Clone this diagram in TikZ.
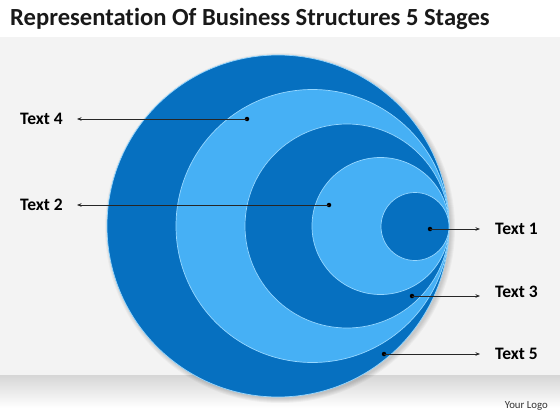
\documentclass[tikz,border=0pt]{standalone}
\usepackage{fontspec}
\setmainfont{Carlito}[RawFeature=-liga]
\usetikzlibrary{arrows.meta}
\definecolor{darkblue}{RGB}{6,112,192}
\definecolor{lightblue}{RGB}{70,176,245}
\definecolor{rimblue}{RGB}{150,215,255}
\definecolor{bggray}{RGB}{243,243,243}
\definecolor{bandgray}{RGB}{214,214,214}
\definecolor{titlegray}{RGB}{25,25,25}
\begin{document}
\begin{tikzpicture}[x=1pt,y=-1pt,
  ring/.style={draw=rimblue, line width=0.7pt},
  lbl/.style={font=\fontsize{17.5}{20}\selectfont\bfseries, text=black, inner sep=0pt},
  dotnode/.style={circle, fill=black, minimum size=4.5pt, inner sep=0pt},
  conn/.style={draw=black!85, line width=0.6pt, -{Stealth[length=4.5pt,width=3.5pt]}}]
\useasboundingbox (0,0) rectangle (560,420);
\fill[white] (0,0) rectangle (560,420);
\fill[bggray] (0,37) rectangle (560,375);
\shade[top color=bandgray, bottom color=white] (0,375) rectangle (560,408);
% title
\node[anchor=base west, font=\fontsize{24.6}{28}\selectfont\bfseries, text=titlegray, inner sep=0pt] (title) at (10,26) {Representation Of Business Structures 5 Stages};
% shadow
\foreach \k in {0,1,2,3,4}{
  \fill[black, opacity=0.035] (280,228) circle[radius={171pt+\k pt}];
}
% circles
\fill[darkblue] (278,226) circle[radius=171pt];
\draw[ring] (278,226) circle[radius=171pt];
\fill[lightblue] (312.5,226) circle[radius=136.5pt];
\draw[ring] (312.5,226) circle[radius=136.5pt];
\fill[darkblue] (347,226) circle[radius=102pt];
\draw[ring] (347,226) circle[radius=102pt];
\fill[lightblue] (380.5,226) circle[radius=68.5pt];
\draw[ring] (380.5,226) circle[radius=68.5pt];
\fill[darkblue] (415,226.5) circle[radius=34pt];
\draw[ring] (415,226.5) circle[radius=34pt];
% dots
\node[dotnode] (d4) at (247,119) {};
\node[dotnode] (d2) at (329,205) {};
\node[dotnode] (d1) at (430,229) {};
\node[dotnode] (d3) at (412,296) {};
\node[dotnode] (d5) at (384,354) {};
% labels
\node[lbl, anchor=west] (t4) at (20,119) {Text 4};
\node[lbl, anchor=west] (t2) at (20,205) {Text 2};
\node[lbl, anchor=west] (t1) at (495,229) {Text 1};
\node[lbl, anchor=west] (t3) at (495,292) {Text 3};
\node[lbl, anchor=west] (t5) at (495,354) {Text 5};
% connectors
\draw[conn] (d4.center) -- (77,119);
\draw[conn] (d2.center) -- (77,205);
\draw[conn] (d1.center) -- (480,229);
\draw[conn] (d3.center) -- (480,296);
\draw[conn] (d5.center) -- (480,354);
% logo
\node[anchor=east, font=\fontsize{10.8}{13}\selectfont, text=black!80, inner sep=0pt] (logo) at (548,406) {Your Logo};
\end{tikzpicture}
\end{document}
